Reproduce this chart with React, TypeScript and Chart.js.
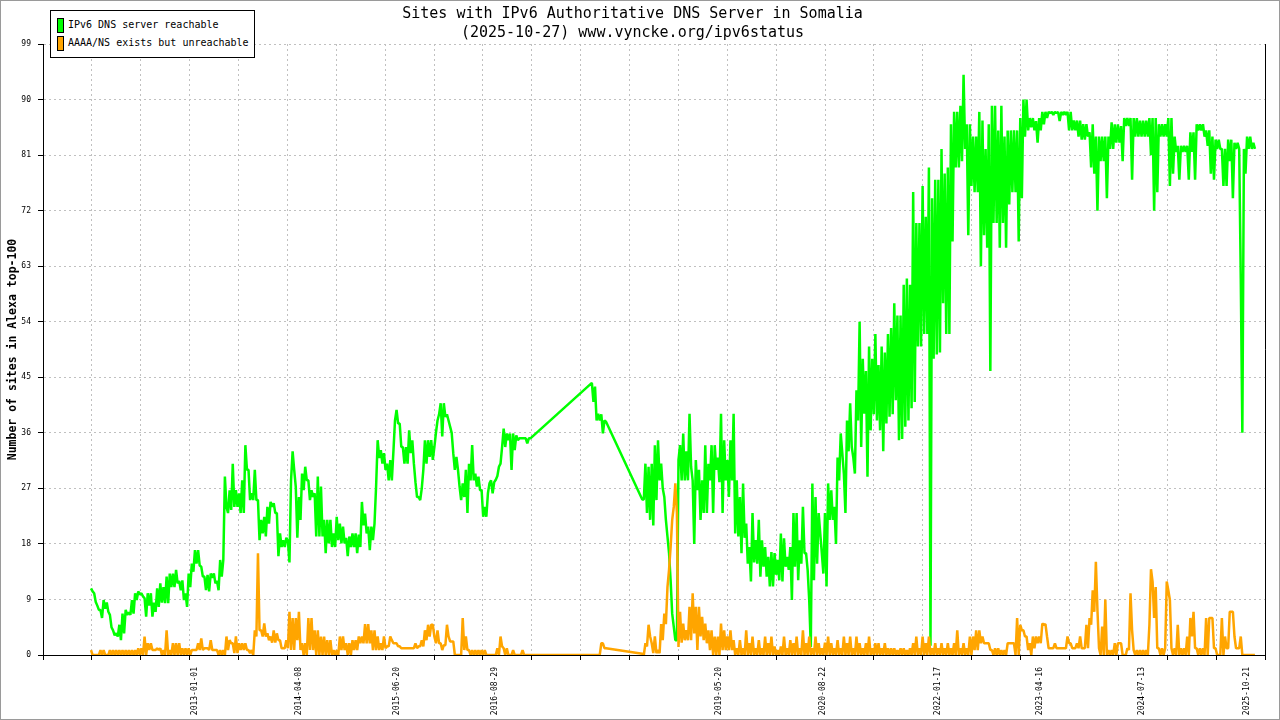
import React, { useEffect, useRef } from 'react';
import { Chart, registerables } from 'chart.js';

Chart.register(...registerables);

// ---------- text ----------
const TITLE_LINES = [
  'Sites with IPv6 Authoritative DNS Server in Somalia',
  '(2025-10-27) www.vyncke.org/ipv6status',
];
const Y_TITLE = 'Number of sites in Alexa top-100';
const SERIES_NAMES = ['IPv6 DNS server reachable', 'AAAA/NS exists but unreachable'];
const SERIES_COLORS = ['#00ff00', '#ffa500'];

// ---------- axes ----------
const X_TICK_LABELS = [
  '2013-01-01', '2014-04-08', '2015-06-20', '2016-08-29', '2019-05-20',
  '2020-08-22', '2022-01-17', '2023-04-16', '2024-07-13', '2025-10-21',
];
const Y_TICKS = [0, 9, 18, 27, 36, 45, 54, 63, 72, 81, 90, 99];

// ---------- data: one reading every 7 days from FIRST_SAMPLE (null = no data) ----------
const FIRST_SAMPLE = '2011-09-10';
const SAMPLE_STEP_DAYS = 7;
const _ = null;

const REACHABLE: (number | null)[] = [
  10.8, 10.3, 10, 8.6, 8, 7.3, 7.3, 6, 8.9, 7.5, 8.5, 7, 6.5, 4.5, 4, 3.2, 3.5, 3, 4.9, 2.4,
  6.7, 3.5, 7.3, 6.5, 6.9, 6.5, 8.9, 6.7, 10, 8.9, 10.3, 9.8, 10, 9.5, 9.2, 6.2, 10, 8, 10, 6.2,
  8.5, 7, 10.8, 7.8, 11.6, 8.5, 11, 8.4, 12.7, 8.4, 13.2, 11, 13.2, 11, 13.8, 11.6, 12, 10.5, 12.1, 8.9,
  10, 7.8, 13.2, 11, 14.8, 13.5, 17, 14.8, 17, 14.5, 14.3, 12.7, 12.7, 10.5, 13, 10.3, 13.2, 12.5, 13.2, 11.6,
  12, 10.5, 15.4, 12.7, 15.4, 28.9, 24, 23, 26.7, 23.5, 31, 24, 26.7, 24, 26.2, 23, 28.3, 23, 34, 30,
  30, 25.1, 26.2, 25.1, 30, 25.1, 25.1, 18.6, 21.9, 19.7, 22.4, 19.2, 24, 21.3, 24.8, 24, 24.6, 23, 23, 16,
  19.7, 17.5, 18.6, 17.5, 19, 18.5, 15, 28.3, 33, 30, 27.3, 19, 25.6, 21.9, 29.4, 26.7, 30.5, 28.3, 28.3, 25.1,
  26.7, 25.6, 26.2, 19.2, 28.9, 19.2, 27.3, 19.2, 21.9, 16.5, 21.9, 18.1, 21.9, 17.5, 19.7, 17.5, 22.4, 18.6, 21.3, 18.1,
  20.8, 18.1, 19, 16, 19.2, 17.5, 19.7, 17.5, 19.7, 16.5, 19.5, 17.5, 24.8, 21, 22.9, 19.7, 20.8, 17, 20.8, 18.6,
  21.3, 27.3, 34.8, 31.9, 33.2, 31, 32.7, 30, 31, 28.3, 31.6, 28.3, 33, 38, 39.7, 37.5, 37.5, 33.7, 33.7, 31,
  33.7, 31, 36.4, 32.7, 34.8, 31, 28, 25.6, 25.6, 25.1, 27, 30, 34.8, 31, 34.8, 32.1, 34.8, 31.6, 33.7, 36,
  38, 39, 40.8, 35.4, 40.8, 38.6, 39, 38, 37, 36, 32.7, 30, 32.1, 30, 27.3, 25.1, 27.8, 25.6, 30, 23,
  31, 28.3, 34, 28.3, 29.4, 27.3, 28.9, 26.7, 26.7, 22.4, 24, 22.4, 26.2, 27.8, 28.3, 26.2, 28, 28.4, 29, 30.5,
  31, 33.7, 36.7, 33.7, 35.9, 34.8, 35.9, 30, 35.9, 33.2, 35.6, 34.8, 35.1, 35.1, 35.1, 35.1, 35.1, 34.3, 35.1, 35.1,
  _, _, _, _, _, _, _, _, _, _, _, _, _, _, _, _, _, _, _, _,
  _, _, _, _, _, _, _, _, _, _, _, _, _, _, _, _, _, _, 44.1, 41,
  43.5, 38, 39.1, 38, 39, 35.9, 38, 37.8, _, _, _, _, _, _, _, _, _, _, _, _,
  _, _, _, _, _, _, _, _, _, _, 25.2, 25.2, 31, 23, 30.5, 21.9, 31, 21, 34, 25.1,
  34.8, 28.3, 31, 27, 25.6, 21.9, 19.2, 16.5, 12.1, 6.7, 4.6, 2.4, 2.4, 31.6, 34, 28.3, 35.9, 28.3, 33, 28.3,
  39.1, 30.5, 28.3, 18, 31.6, 26.7, 30, 21.9, 28.3, 23, 34, 23, 31, 28.3, 34, 23, 34, 30, 32, 28,
  39.1, 23, 34.8, 28.3, 31.6, 25.6, 34.8, 28.3, 39.1, 19.7, 28.3, 19.2, 25.6, 16.5, 27.8, 19, 21.3, 14.8, 17.5, 11.9,
  23, 15, 18.6, 14.8, 21.9, 12.7, 18.6, 14.3, 17.5, 12.7, 15.9, 11.1, 16.7, 11.1, 16.5, 13, 15.4, 12.1, 19.7, 11.9,
  18.9, 14.3, 15.9, 13.8, 17.5, 8.9, 23, 14.3, 23, 12.1, 18.6, 14.8, 24, 16.5, 16.5, 13.8, 8.9, 1.3, 27.8, 12.1,
  25.6, 14.8, 23, 19.7, 16.5, 13.2, 23, 11.1, 27.8, 21.9, 26.7, 21.9, 24, 18, 32, 28.3, 35.9, 32.7, 29.4, 23,
  38, 33, 40.8, 33.7, 32, 29.4, 42.9, 38, 54, 33.7, 48, 39.1, 46, 28.9, 50, 36.4, 48, 39, 52, 38,
  47, 36.4, 50, 33, 49, 37.5, 52, 38.6, 53, 39, 57, 41.3, 55, 34.8, 55, 35, 60, 37, 61, 38,
  60, 40, 75, 41, 70, 50, 70, 50, 76, 52, 71, 52, 79, 1.5, 74, 48, 77, 48.7, 77, 49,
  82, 57, 78, 52, 79, 52, 86, 67, 88, 79, 88, 79, 89, 80, 94, 82, 86, 68, 86, 76,
  84, 75, 84, 75, 88, 63, 86.6, 68, 82, 66, 86, 46, 89, 70, 89, 70, 85, 66, 89, 70,
  84, 66, 85, 73, 85, 75, 85, 75, 85, 67, 87, 74, 90, 84, 90, 85, 87, 85.5, 87, 85,
  86.5, 83, 87, 85, 88, 86, 88, 87, 88, 87.8, 88, 87.5, 88, 87.8, 88, 86.5, 88, 87.5, 88, 87.5,
  88, 85, 88, 85, 86.6, 85, 86.6, 84, 86.6, 83.5, 86, 83.5, 86, 84, 84.7, 79, 86, 78, 84, 72,
  84, 80, 84, 80, 84, 74, 84, 82, 86.3, 82, 86, 83, 86, 83, 85.7, 80, 87, 85.7, 87, 85.7,
  87, 77, 87, 84, 87, 84, 86.6, 84, 86.6, 84, 86.6, 84, 87, 81, 87, 72, 87, 75, 86, 84,
  86, 84, 86, 84, 87, 76, 87, 78, 84, 81.5, 82.5, 77, 82.5, 81.5, 82.5, 81.5, 82.5, 77, 84.7, 81.5,
  84.7, 77, 86, 85, 86, 85, 86, 84, 85, 82.5, 85, 78, 84, 77, 83.5, 82, 83.5, 82, 82, 76,
  82, 76, 83.5, 80, 83.5, 74, 83, 82, 83, 82, 61, 36, 82, 78, 84, 82, 84, 82, 83, 82,
];

const UNREACHABLE: (number | null)[] = [
  0.8, 0, 0, 0, 0, 0, 0.8, 0, 0.8, 0, 0, 0, 0.8, 0, 0.8, 0, 0.8, 0, 0.8, 0,
  0.8, 0, 0.8, 0, 0.8, 0, 0.8, 0, 0.8, 0, 1.1, 0, 1.1, 0, 3, 0, 1.9, 0.8, 1.9, 0.8,
  0.8, 0.8, 1.1, 0.8, 1.1, 0, 0.8, 0, 4, 0, 0.8, 0, 1.9, 0, 1.9, 0, 1.9, 0, 1.1, 0,
  1.1, 0, 1.1, 0, 0.8, 0.8, 0.8, 0.8, 1.9, 0.8, 2.7, 0.8, 1.1, 1.1, 1.1, 0.8, 2.4, 0.8, 0.8, 0.8,
  0.8, 0, 0.8, 0, 0.8, 0, 3, 0.8, 2.4, 1.9, 1.9, 0.3, 3, 0.3, 1.9, 0.8, 1.9, 0.8, 1.9, 0.8,
  0.8, 0.3, 0.8, 0, 4, 3, 16.5, 4, 4, 3, 5.1, 3, 3.5, 2.4, 3, 2, 4, 2, 3.5, 2.4,
  2.4, 1.1, 1.1, 1.1, 2.4, 1.1, 7, 0.8, 6, 0.8, 6, 2.4, 7, 0.8, 1.9, 0, 1.9, 0, 6, 0.8,
  6, 0.8, 4, 0, 4, 0, 3, 0, 3, 0, 2.4, 0, 2.4, 0, 0.8, 0, 0.8, 0, 3, 0.8,
  3, 0.8, 1.9, 0, 1.9, 0, 2.4, 0.8, 2.4, 0.8, 3, 1.9, 3, 1.9, 5, 1.9, 5, 1.9, 4, 0.8,
  4, 0.8, 3, 0.8, 1.9, 0.8, 3, 1.1, 1.4, 1.4, 3, 2.4, 1.9, 1.9, 1.9, 1.4, 1.4, 1.1, 1.1, 1.1,
  1.1, 1.1, 1.1, 1.1, 1.1, 1.1, 1.9, 1.1, 1.4, 1.4, 2.4, 1.4, 4, 2.4, 4.9, 3, 4.9, 4.9, 3, 1.9,
  4, 1.9, 1.9, 0.8, 1.6, 1.6, 4.9, 3, 2.2, 2.2, 2.2, 0, 0, 0, 0, 0, 6, 0.8, 3, 0.8,
  0.8, 0, 0.8, 0, 0.8, 0, 0.8, 0, 0.8, 0, 0.8, 0, 0, 0, 0, 0, 0, 0, 1.1, 0,
  3, 1.4, 1.1, 0, 1.1, 0, 0, 0, 0.8, 0, 0, 0, 0, 0, 0.8, 0, 0, 0, 0, 0,
  _, _, _, _, _, _, _, _, _, _, _, _, _, _, _, _, _, _, _, _,
  _, _, _, _, _, _, _, _, _, _, _, _, _, _, _, _, _, _, 0, 0,
  0, 0, 0, 0, 1.9, 1.9, 1.1, 1.1, _, _, _, _, _, _, _, _, _, _, _, _,
  _, _, _, _, _, _, _, _, _, _, 0.2, 0, 1.9, 1.4, 4.9, 3, 1.9, 0.3, 3, 0.3,
  0.8, 0.3, 5, 2.4, 6.7, 5, 11, 13.8, 17.5, 21.9, 24, 27.8, 23, 1.3, 7, 2, 5.1, 2.4, 4, 2.4,
  7.8, 2.4, 10, 3.5, 7.8, 0.8, 7.8, 3, 6.2, 2.4, 5.1, 1.9, 4, 0.8, 4, 0, 3, 0, 3, 0,
  5.1, 0.8, 4, 0.8, 3, 0.8, 4, 0.8, 2.4, 0, 1.1, 0, 2.4, 0, 1.1, 0, 4, 0, 1.9, 0,
  3, 0, 1.1, 0, 2.4, 0, 1.1, 0, 3, 0, 1.9, 0, 3, 0, 1.4, 0, 0.8, 0, 1.4, 0,
  3, 0, 1.1, 0, 2.4, 0, 1.9, 0, 3, 0, 1.1, 0, 4, 0, 1.9, 0, 3, 0, 1.1, 0,
  3, 0, 1.9, 0, 1.1, 0, 2, 0, 3, 0, 1.9, 0, 1.1, 0, 2.4, 0, 1.1, 0, 3, 0,
  1.9, 0, 3, 0, 1.1, 0, 3, 0, 1.9, 0, 1.1, 0, 1.9, 0, 3, 0, 1.1, 0, 1.9, 0,
  1.9, 0, 1.1, 0, 1.9, 0, 1.1, 0, 1.1, 0, 1.1, 0, 0.8, 0, 1.1, 0, 1.1, 0, 0.8, 0,
  1.1, 0, 1.9, 0, 3, 0, 1.1, 0, 3, 0, 1.9, 0, 3, 0, 1.1, 0, 1.9, 0, 1.1, 0,
  1.9, 0, 1.1, 0, 1.9, 0, 1.1, 0, 1.9, 0, 4, 0, 1.1, 0, 1.9, 0, 1.1, 0, 3, 0,
  3, 0.8, 4, 0.8, 4, 1.9, 3, 1.9, 1.9, 1.9, 1.9, 0.8, 0.8, 0, 1.1, 0, 1.1, 0, 0.8, 0,
  0.8, 0, 1.9, 1.9, 1.9, 1.9, 1.9, 0, 6, 0, 4.9, 4, 4, 3, 3, 0.8, 1.9, 0, 3, 1.1,
  3, 1.9, 3, 1.9, 5.1, 4.9, 5, 3, 1.1, 1.1, 1.1, 1.1, 1.9, 1.1, 1.1, 1.1, 1.1, 1.1, 1.1, 1.1,
  3, 1.9, 1.9, 1.1, 1.1, 1.1, 1.9, 1.1, 3, 1.1, 1.1, 1.1, 4.9, 1.1, 6, 4.9, 10.5, 7, 15.1, 7.3,
  1.1, 0, 4.6, 0, 9, 0, 0.8, 0, 0.8, 0, 1.9, 0, 1.9, 1.9, 1.9, 0, 0, 0, 1.1, 0.8,
  10, 4, 0.8, 0, 0.8, 0, 0.8, 0, 0.8, 0, 0.8, 0, 4.9, 13.9, 11.9, 6, 11, 1.1, 1.1, 0,
  1.1, 0, 1.1, 11.9, 10.5, 8.9, 1.1, 0, 1.1, 0, 4.9, 0, 1.1, 0, 1.1, 0, 3, 0, 6, 3,
  7, 1.1, 1.1, 0, 1.1, 0, 1.1, 0, 6, 0, 6, 6, 6, 1.1, 1.1, 0, 0, 0, 6, 0,
  3, 1.1, 1.1, 7, 7, 7, 3, 1.1, 1.1, 1.1, 3, 0, 0, 0, 0, 0, 0, 0, 0, 0,
];

// ---------- helpers ----------
const MONO = "'DejaVu Sans Mono', monospace";
const dayNum = (s: string) => {
  const [y, m, d] = s.split('-').map(Number);
  return Date.UTC(y, m - 1, d) / 86400000;
};
const FIRST_DAY = dayNum(FIRST_SAMPLE);
const xAt = (i: number) => FIRST_DAY + i * SAMPLE_STEP_DAYS;

const REF_DAY = dayNum('2013-01-01');
const X_MIN = REF_DAY - 692.4;
const X_MAX = REF_DAY + 4738.7;
const GRID_DIVISIONS = 25;
const GRID_COLOR = '#c0c0c0';
const GRID_DASH = [2, 3];

const LABEL_MAP = new Map<number, string>(X_TICK_LABELS.map((s) => [dayNum(s), s]));

const frame = {
  id: 'frame',
  beforeDraw(chart: any) {
    const { ctx, width, height } = chart;
    ctx.save();
    ctx.fillStyle = '#ffffff';
    ctx.fillRect(0, 0, width, height);
    ctx.restore();
  },
  afterDraw(chart: any) {
    const { ctx, width, height, chartArea } = chart;
    ctx.save();
    ctx.strokeStyle = '#000000';
    ctx.lineWidth = 1;
    const rx = Math.round(chartArea.right) + 0.5;
    ctx.beginPath();
    ctx.moveTo(rx, chartArea.top);
    ctx.lineTo(rx, chartArea.bottom);
    ctx.stroke();
    ctx.strokeStyle = '#9a9a9a';
    ctx.strokeRect(0.5, 0.5, width - 1, height - 1);
    ctx.restore();
  },
};

export default function App() {
  const canvasRef = useRef<HTMLCanvasElement | null>(null);

  useEffect(() => {
    if (!canvasRef.current) return;
    const mk = (vals: (number | null)[]) => vals.map((v, i) => ({ x: xAt(i), y: v }));
    const isLabel = (v: number) => LABEL_MAP.has(v);
    const lineStyle = {
      borderWidth: 2.5,
      pointRadius: 0,
      tension: 0,
      fill: false,
      spanGaps: true,
      borderJoinStyle: 'bevel',
    };
    const chart = new Chart(canvasRef.current, {
      type: 'line',
      data: {
        datasets: [
          {
            ...lineStyle,
            label: SERIES_NAMES[0],
            data: mk(REACHABLE),
            borderColor: SERIES_COLORS[0],
            backgroundColor: SERIES_COLORS[0],
            order: 1,
          },
          {
            ...lineStyle,
            label: SERIES_NAMES[1],
            data: mk(UNREACHABLE),
            borderColor: SERIES_COLORS[1],
            backgroundColor: SERIES_COLORS[1],
            order: 0,
          },
        ],
      },
      options: {
        responsive: false,
        maintainAspectRatio: false,
        animation: false,
        events: [],
        layout: { padding: { left: 0, right: 15, top: 0, bottom: 0 } },
        plugins: {
          legend: { display: false },
          tooltip: { enabled: false },
          title: {
            display: true,
            text: TITLE_LINES,
            color: '#000',
            font: { family: MONO, size: 15, weight: 'normal', lineHeight: '19px' },
            padding: { top: 4.5, bottom: 1.5 },
          },
        },
        scales: {
          x: {
            type: 'linear',
            min: X_MIN,
            max: X_MAX,
            afterBuildTicks: (s: any) => {
              const t: { value: number }[] = [];
              for (let k = 0; k <= GRID_DIVISIONS; k++) {
                t.push({ value: X_MIN + ((X_MAX - X_MIN) * k) / GRID_DIVISIONS });
              }
              LABEL_MAP.forEach((_l, v) => t.push({ value: v }));
              t.sort((a, b) => a.value - b.value);
              s.ticks = t;
            },
            afterFit: (s: any) => {
              s.height = 65;
            },
            ticks: {
              autoSkip: false,
              minRotation: 90,
              maxRotation: 90,
              padding: 7,
              labelOffset: -4,
              color: '#000',
              font: { family: MONO, size: 8, lineHeight: 1 },
              callback: (v: any) => LABEL_MAP.get(v) ?? '',
            },
            grid: {
              color: (c: any) => (c.tick && isLabel(c.tick.value) ? 'rgba(0,0,0,0)' : GRID_COLOR),
              tickColor: (c: any) => (c.tick && isLabel(c.tick.value) ? 'rgba(0,0,0,0)' : '#000'),
              tickLength: 5,
              tickBorderDash: [],
              lineWidth: 1,
            },
            border: { display: true, color: '#000', width: 1, dash: GRID_DASH },
          },
          y: {
            type: 'linear',
            min: 0,
            max: 99,
            afterBuildTicks: (s: any) => {
              s.ticks = Y_TICKS.map((v) => ({ value: v }));
            },
            afterFit: (s: any) => {
              s.width = 43;
            },
            ticks: {
              color: '#000',
              padding: 7,
              font: { family: MONO, size: 8 },
            },
            grid: {
              color: GRID_COLOR,
              tickColor: '#000',
              tickLength: 5,
              tickBorderDash: [],
              lineWidth: 1,
            },
            border: { display: true, color: '#000', width: 1, dash: GRID_DASH },
            title: {
              display: true,
              text: Y_TITLE,
              color: '#000',
              font: { family: MONO, size: 11.5, weight: 'bold' },
              padding: { top: 6, bottom: 0 },
            },
          },
        },
      },
      plugins: [frame],
    } as any);
    return () => chart.destroy();
  }, []);

  const swatch = (color: string): React.CSSProperties => ({
    position: 'absolute',
    left: 6,
    width: 5,
    height: 13,
    background: color,
    border: '1px solid #000',
  });
  const text: React.CSSProperties = {
    position: 'absolute',
    left: 17,
    fontFamily: MONO,
    fontSize: 10,
    lineHeight: '12px',
    color: '#000',
    whiteSpace: 'nowrap',
  };

  return (
    <div style={{ position: 'fixed', left: 0, top: 0, width: 1280, height: 720, background: '#fff' }}>
      <canvas ref={canvasRef} width={1280} height={720} style={{ width: 1280, height: 720, display: 'block' }} />
      <div
        style={{
          position: 'absolute',
          left: 50,
          top: 10,
          width: 205,
          height: 48,
          boxSizing: 'border-box',
          border: '1px solid #000',
          background: '#fff',
        }}
      >
        <div style={{ ...swatch(SERIES_COLORS[0]), top: 7 }} />
        <div style={{ ...text, top: 8 }}>{SERIES_NAMES[0]}</div>
        <div style={{ ...swatch(SERIES_COLORS[1]), top: 25 }} />
        <div style={{ ...text, top: 26 }}>{SERIES_NAMES[1]}</div>
      </div>
    </div>
  );
}
